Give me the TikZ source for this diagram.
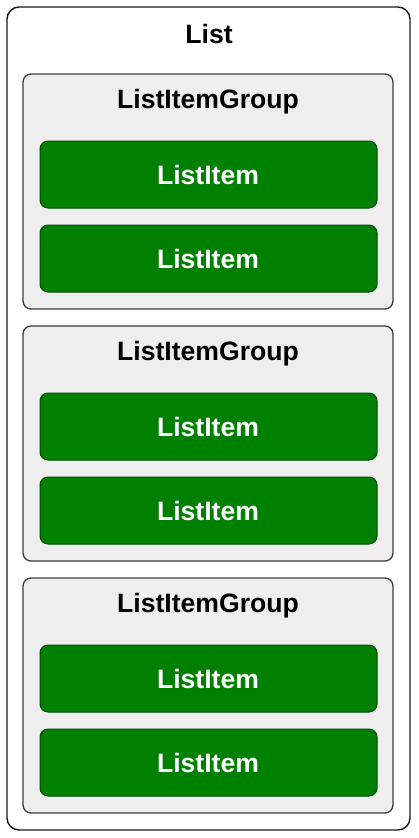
\documentclass[tikz,border=0pt]{standalone}
\usepackage{fontspec}
\setmainfont{Liberation Sans}
\definecolor{itemfill}{RGB}{0,128,0}
\definecolor{itemline}{RGB}{0,75,0}
\definecolor{groupfill}{RGB}{238,238,238}
\definecolor{groupline}{RGB}{60,60,60}
\begin{document}
\begin{tikzpicture}[x=1pt,y=-1pt,
  outerbox/.style={draw=black!90,fill=white,line width=1.4pt,rounded corners=12pt},
  groupbox/.style={draw=groupline,fill=groupfill,line width=1.3pt,rounded corners=8pt},
  itembox/.style={draw=itemline,fill=itemfill,line width=1pt,rounded corners=8pt},
  lbl/.style={font=\fontsize{26.6}{30}\selectfont\bfseries,inner sep=0pt,anchor=center},
  itemlbl/.style={lbl,text=white}]
\useasboundingbox (0,0) rectangle (418,838);
\draw[outerbox] (7,7) rectangle (410,830);
\node[lbl] (list) at (209,34) {List};
\foreach \g/\gy in {1/74,2/326,3/578}{
  \draw[groupbox] (23,\gy) rectangle (393,\gy+235);
  \node[lbl] (g\g) at (208,\gy+28) {ListItemGroup};
  \draw[itembox] (40,\gy+67) rectangle (377,\gy+134);
  \node[itemlbl] (i\g a) at (208,\gy+101) {ListItem};
  \draw[itembox] (40,\gy+151) rectangle (377,\gy+218);
  \node[itemlbl] (i\g b) at (208,\gy+185) {ListItem};
}
\end{tikzpicture}
\end{document}
